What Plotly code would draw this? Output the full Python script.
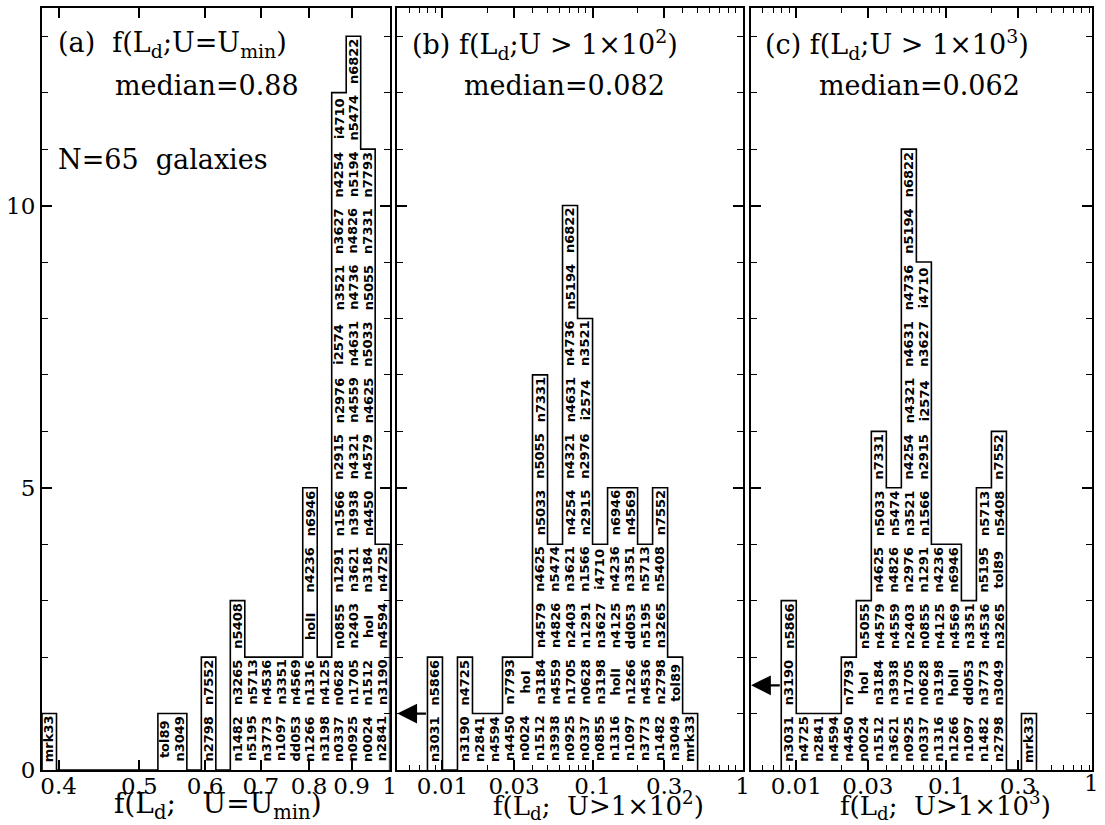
import numpy as np
import plotly.graph_objects as go

# ---------------------------------------------------------------
# Galaxies in each histogram bin (left to right), names listed
# bottom to top inside the bin.  "" marks an empty bin.
# ---------------------------------------------------------------
names_a = [
    "mrk33", "", "", "", "", "", "", "",
    "tol89", "n3049", "", "n2798 n7552", "",
    "n1482 n3265 n5408",
    "n5195 n5713",
    "n3773 n4536",
    "n1097 n3351",
    "dd053 n4569",
    "n1266 n1316 holI n4236 n6946",
    "n3198 n4125",
    "n0337 n0628 n0855 n1291 n1566 n2915 n2976 i2574 n3521 n3627 n4254 i4710",
    "n0925 n1705 n2403 n3621 n3938 n4321 n4559 n4631 n4736 n4826 n5194 n5474 n6822",
    "n0024 n1512 hoI n3184 n4450 n4579 n4625 n5033 n5055 n7331 n7793",
    "n2841 n3190 n4594 n4725",
]

names_b = [
    "n3031 n5866", "",
    "n3190 n4725",
    "n2841",
    "n4594",
    "n4450 n7793",
    "n0024 hoI",
    "n1512 n3184 n4579 n4625 n5033 n5055 n7331",
    "n3938 n4559 n4826 n5474",
    "n0925 n1705 n2403 n3621 n4254 n4321 n4631 n4736 n5194 n6822",
    "n0337 n0628 n1291 n1566 n2915 n2976 i2574 n3521",
    "n0855 n3198 n3627 i4710",
    "n1316 holI n4125 n4236 n6946",
    "n1097 n1266 dd053 n3351 n4569",
    "n3773 n4536 n5195 n5713",
    "n1482 n2798 n3265 n5408 n7552",
    "n3049 tol89",
    "mrk33",
]

names_c = [
    "n3031 n3190 n5866",
    "n4725",
    "n2841",
    "n4594",
    "n4450 n7793",
    "n0024 hoI n5055",
    "n1512 n3184 n4579 n4625 n5033 n7331",
    "n3621 n3938 n4559 n4826 n5474",
    "n0925 n1705 n2403 n2976 n3521 n4254 n4321 n4631 n4736 n5194 n6822",
    "n0337 n0628 n0855 n1291 n1566 n2915 i2574 n3627 i4710",
    "n1316 n3198 n4125 n4236",
    "n1266 holI n4569 n6946",
    "n1097 dd053 n3351",
    "n1482 n3773 n4536 n5195 n5713",
    "n2798 n3049 n3265 tol89 n5408 n7552",
    "",
    "mrk33",
]

# bin edges in log10(f)
edges_a = np.linspace(np.log10(0.382), 0.0, len(names_a) + 1)
edges_b = -2.1 + 0.1 * np.arange(len(names_b) + 1)
edges_c = -2.1 + 0.1 * np.arange(len(names_c) + 1)

medians = ["0.88", "0.082", "0.062"]
n_galaxies = 65
arrow_level_b = 1.0
arrow_level_c = 1.5

# axis extents, log10(f)
xrange_a = [np.log10(0.382), 0.0]
xrange_b = [np.log10(0.005), 0.0]
xrange_c = [np.log10(0.005), np.log10(0.933)]
ymax = 13.5

tickvals_a = [0.4, 0.5, 0.6, 0.7, 0.8, 0.9, 1.0]
ticktext_a = ["0.4", "0.5", "0.6", "0.7", "0.8", "0.9", "1"]
tickvals_bc = [0.01, 0.03, 0.1, 0.3, 1.0]
ticktext_bc = ["0.01", "0.03", "0.1", "0.3", "1"]
minor_bc = [m * 10.0 ** d for d in (-3, -2, -1) for m in range(2, 10)]

SERIF = "DejaVu Serif"
SANS = "DejaVu Sans"
NB = "\u00a0"

W, H = 1105, 825
ML, MR, MT, MB = 38, 6, 8, 55
PW = W - ML - MR
PH = H - MT - MB


def px_dom(x0, x1):
    return [(x0 - ML) / PW, (x1 - ML) / PW]


domains = [px_dom(38, 389.3), px_dom(397, 746), px_dom(754.5, 1099)]

fig = go.Figure()
annotations = []


def add_panel(idx, names, edges):
    xa = "x" if idx == 0 else f"x{idx + 1}"
    ya = "y" if idx == 0 else f"y{idx + 1}"
    counts = [len(s.split()) for s in names]
    xs, ys = [10 ** edges[0]], [0]
    for i, c in enumerate(counts):
        xs += [10 ** edges[i], 10 ** edges[i + 1]]
        ys += [c, c]
    xs.append(10 ** edges[-1])
    ys.append(0)
    fig.add_trace(go.Scatter(x=xs, y=ys, mode="lines", xaxis=xa, yaxis=ya,
                             line=dict(color="black", width=1.6),
                             fill="toself", fillcolor="white",
                             hoverinfo="skip", showlegend=False))
    for i, s in enumerate(names):
        xc = 0.5 * (edges[i] + edges[i + 1])
        for k, name in enumerate(s.split()):
            annotations.append(dict(
                x=xc, y=k + 0.55, xref=xa, yref=ya, text=name,
                textangle=-90, showarrow=False,
                font=dict(family=SANS, size=13, color="black", weight="bold"),
                xanchor="center", yanchor="middle"))


add_panel(0, names_a, edges_a)
add_panel(1, names_b, edges_b)
add_panel(2, names_c, edges_c)

# arrows at the left edge of panels (b) and (c)
for xa, ya, lvl, rng, e in (("x2", "y2", arrow_level_b, xrange_b, edges_b),
                            ("x3", "y3", arrow_level_c, xrange_c, edges_c)):
    annotations.append(dict(
        x=rng[0], y=lvl, ax=e[0], ay=lvl, xref=xa, yref=ya, axref=xa, ayref=ya,
        showarrow=True, arrowhead=2, arrowsize=1.8, arrowwidth=2.2,
        arrowcolor="black", text=""))

# panel captions
cap_font = dict(family=SERIF, size=27, color="black")


def cap(xpix, ypix, text):
    annotations.append(dict(
        x=(xpix - ML) / PW, y=1 - (ypix - MT) / PH,
        xref="paper", yref="paper", text=text, showarrow=False,
        xanchor="left", yanchor="middle", font=cap_font))


cap(52, 45, f"(a){NB} f(L<sub>d</sub>;U=U<sub>min</sub>)")
cap(110, 85, f"median={medians[0]}")
cap(52, 160, f"N={n_galaxies}{NB} galaxies")
cap(410, 45, "(b) f(L<sub>d</sub>;U > 1×10<sup>2</sup>)")
cap(462, 85, f"median={medians[1]}")
cap(767, 45, "(c) f(L<sub>d</sub>;U > 1×10<sup>3</sup>)")
cap(821, 85, f"median={medians[2]}")

# x axis titles (centre pixel, text, font size)
titles = [(216, f"f(L<sub>d</sub>;{NB}{NB}{NB}U=U<sub>min</sub>)", 28),
          (600, f"f(L<sub>d</sub>;{NB} U>1×10<sup>2</sup>)", 26),
          (951, f"f(L<sub>d</sub>;{NB} U>1×10<sup>3</sup>)", 26)]
for xc, t, fs in titles:
    annotations.append(dict(
        x=(xc - ML) / PW, y=-(805 - (H - MB)) / PH,
        xref="paper", yref="paper", text=t, showarrow=False,
        xanchor="center", yanchor="middle",
        font=dict(family=SERIF, size=fs, color="black")))

tick_font = dict(family=SERIF, size=23, color="black")

# panel (c) stops just short of f=1; its "1" label sits at the frame edge
annotations.append(dict(
    x=(1098 - ML) / PW, y=-(783 - (H - MB)) / PH, xref="paper",
    yref="paper", text="1", showarrow=False, xanchor="center",
    yanchor="middle", font=dict(family=SERIF, size=23, color="black")))

axis_common = dict(showline=True, linecolor="black", linewidth=2,
                   mirror="ticks", ticks="inside", tickcolor="black",
                   tickwidth=1.5, showgrid=False, zeroline=False,
                   tickfont=tick_font)

layout = dict(
    width=W, height=H, margin=dict(l=ML, r=MR, t=MT, b=MB),
    paper_bgcolor="white", plot_bgcolor="white", showlegend=False,
    annotations=annotations,
)

xcfg = [(xrange_a, tickvals_a, ticktext_a, None),
        (xrange_b, tickvals_bc, ticktext_bc, minor_bc),
        (xrange_c, tickvals_bc, ticktext_bc, minor_bc)]
for i, (rng, tv, tt, mv) in enumerate(xcfg):
    key = "xaxis" if i == 0 else f"xaxis{i + 1}"
    ykey = "yaxis" if i == 0 else f"yaxis{i + 1}"
    ax = dict(axis_common, type="log", range=rng, domain=domains[i],
              tickmode="array", tickvals=tv, ticktext=tt, ticklen=10,
              ticklabelstandoff=-6,
              anchor="y" if i == 0 else f"y{i + 1}")
    if mv is not None:
        ax["minor"] = dict(tickmode="array", tickvals=mv, ticks="inside",
                           ticklen=5, tickcolor="black", tickwidth=1.2)
    layout[key] = ax
    layout[ykey] = dict(axis_common, range=[0, ymax], domain=[0, 1],
                        tickmode="array", tickvals=[0, 5, 10], ticklen=10,
                        showticklabels=(i == 0),
                        anchor="x" if i == 0 else f"x{i + 1}",
                        minor=dict(tickmode="array",
                                   tickvals=list(range(1, 14)),
                                   ticks="inside", ticklen=6,
                                   tickcolor="black", tickwidth=1.2))

fig.update_layout(**layout)
fig.write_html("out.html")
